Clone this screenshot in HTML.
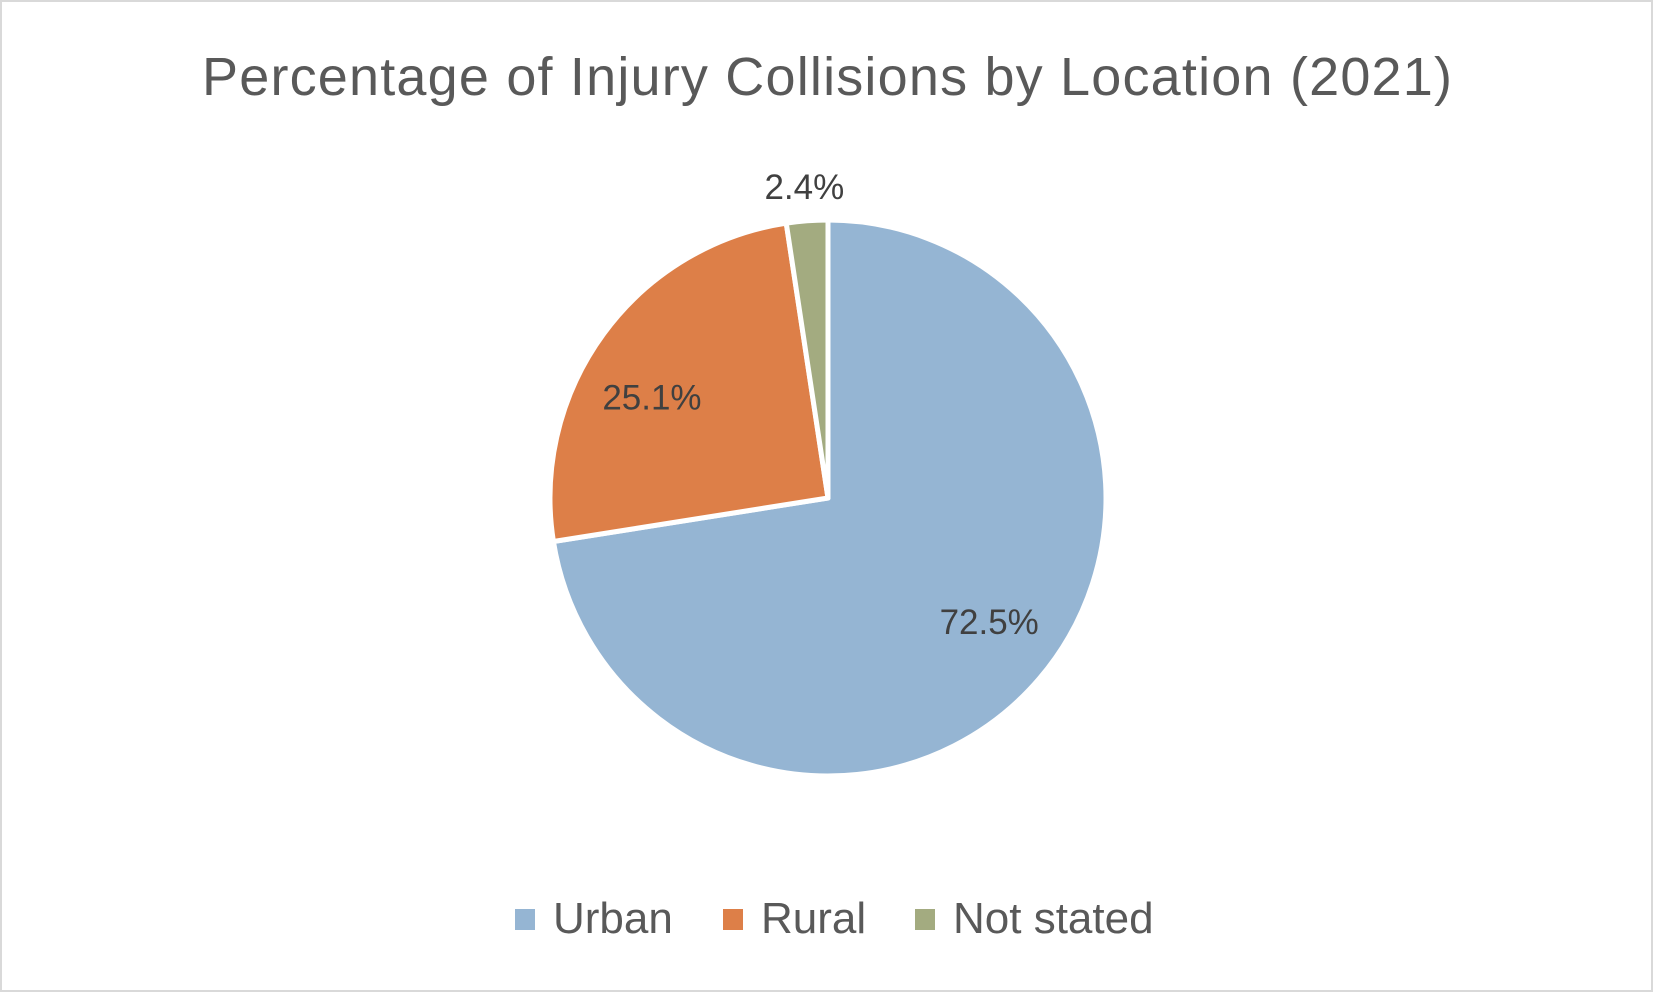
<!DOCTYPE html>
<html><head><meta charset="utf-8"><style>
html,body{margin:0;padding:0;background:#fff;}
svg{display:block;font-family:"Liberation Sans",sans-serif;}
</style></head><body>
<svg id="chart" width="1653" height="993" viewBox="0 0 1653 993">
<rect x="1" y="1" width="1651" height="990" fill="#fff" stroke="#d9d9d9" stroke-width="2"/>
<text x="827" y="95" text-anchor="middle" font-size="54" fill="#595959" textLength="1250">Percentage of Injury Collisions by Location (2021)</text>
<g id="slices"></g>
<g id="labels"></g>
<g id="legend"></g>
</svg>
<script>
const categories = ["Urban", "Rural", "Not stated"];
const values = [72.5, 25.1, 2.4];
const valueLabels = ["72.5%", "25.1%", "2.4%"];
const colors = ["#95b5d3", "#dd7f48", "#a3ab80"];
const NS = "http://www.w3.org/2000/svg";
const cx = 828, cy = 498, r = 278;
const total = values.reduce((a, b) => a + b, 0);
const slicesG = document.getElementById('slices');
const labelsG = document.getElementById('labels');
const legendG = document.getElementById('legend');
function pt(angle, rad) { return [cx + rad * Math.sin(angle), cy - rad * Math.cos(angle)]; }
let acc = 0;
const labelR = [0.72, 0.74, 1.13];
const nudgeX = [9, -10, 0];
const nudgeY = [-6, 21, 2];
values.forEach((v, i) => {
  const a0 = acc / total * 2 * Math.PI;
  acc += v;
  const a1 = acc / total * 2 * Math.PI;
  const [x0, y0] = pt(a0, r), [x1, y1] = pt(a1, r);
  const large = (a1 - a0) > Math.PI ? 1 : 0;
  const p = document.createElementNS(NS, 'path');
  p.setAttribute('d', `M${cx},${cy} L${x0},${y0} A${r},${r} 0 ${large} 1 ${x1},${y1} Z`);
  p.setAttribute('fill', colors[i]);
  p.setAttribute('stroke', '#fff');
  p.setAttribute('stroke-width', '5');
  p.setAttribute('stroke-linejoin', 'round');
  
  
  slicesG.appendChild(p);
  const am = (a0 + a1) / 2;
  const [lx, ly] = pt(am, r * labelR[i]);
  const t = document.createElementNS(NS, 'text');
  t.setAttribute('x', lx + nudgeX[i]);
  t.setAttribute('y', ly + 12 + nudgeY[i]);
  t.setAttribute('text-anchor', 'middle');
  t.setAttribute('font-size', '35');
  t.setAttribute('fill', '#404040');
  t.textContent = valueLabels[i];
  
  
  labelsG.appendChild(t);
});
const legendX = [515, 723, 915];
categories.forEach((c, i) => {
  const g = document.createElementNS(NS, 'g');
  
  
  const s = document.createElementNS(NS, 'rect');
  s.setAttribute('x', legendX[i]); s.setAttribute('y', 909);
  s.setAttribute('width', 20); s.setAttribute('height', 21);
  s.setAttribute('fill', colors[i]);
  
  
  const t = document.createElementNS(NS, 'text');
  t.setAttribute('x', legendX[i] + 38); t.setAttribute('y', 933);
  t.setAttribute('font-size', '44');
  t.setAttribute('fill', '#595959');
  t.textContent = c;
  
  
  g.appendChild(s); g.appendChild(t);
  legendG.appendChild(g);
});
</script>
</body></html>
